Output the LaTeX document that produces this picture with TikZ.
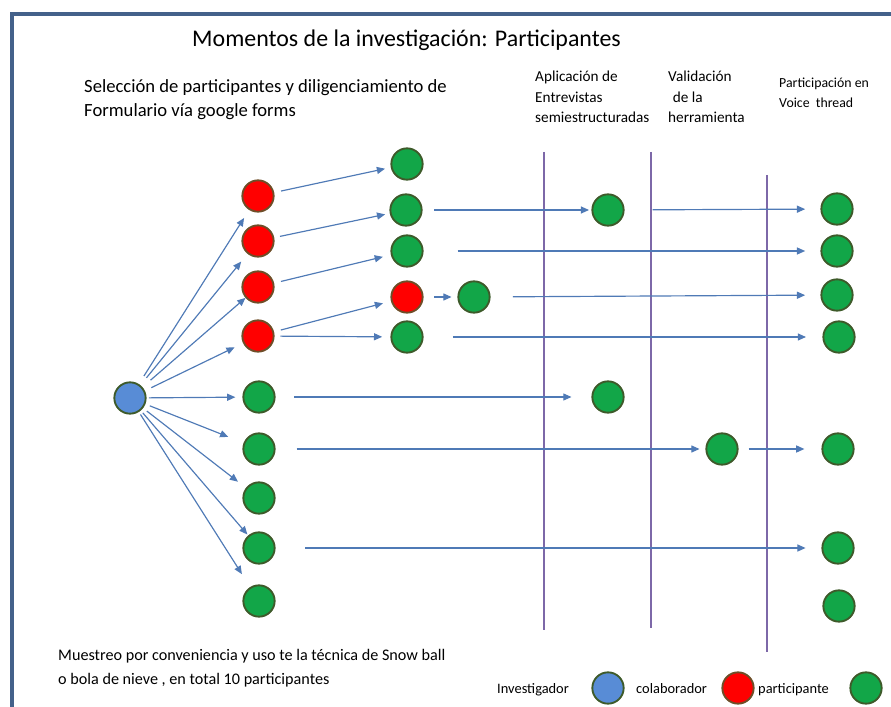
\documentclass[tikz,border=0pt]{standalone}
\usepackage{fontspec}
\setmainfont{Carlito}
\usetikzlibrary{arrows.meta}

\definecolor{framecol}{RGB}{68,97,138}
\definecolor{arrowcol}{RGB}{79,122,182}
\definecolor{phasecol}{RGB}{125,104,168}
\definecolor{greenfill}{RGB}{18,166,72}
\definecolor{redfill}{RGB}{255,0,0}
\definecolor{bluefill}{RGB}{88,140,214}
\definecolor{ringgreen}{RGB}{62,90,42}
\definecolor{ringbrown}{RGB}{110,78,40}

\tikzset{
    ball/.style={circle, draw=ringgreen, line width=1.6pt, minimum size=0.94cm, inner sep=0pt},
    investigador/.style={ball, fill=bluefill},
    colaborador/.style={ball, fill=redfill, draw=ringbrown},
    participante/.style={ball, fill=greenfill},
    flow/.style={draw=arrowcol, line width=1pt, -{Triangle[length=7pt,width=6pt]}},
    phase/.style={draw=phasecol, line width=2.4pt},
    txt/.style={anchor=west, inner sep=0pt, align=left},
    legtxt/.style={anchor=base west, inner sep=0pt, font=\fontsize{12.3}{15}\selectfont}
}

\begin{document}
\begin{tikzpicture}[x=0.03cm, y=-0.03cm]
    \useasboundingbox (0,0) rectangle (891,707);
    \draw[framecol, line width=2.6pt] (12,14) rectangle (930,740);

    % texts
    \node[txt, font=\fontsize{20.4}{24}\selectfont] (title) at (192,40) {Momentos de la investigación: Participantes};
    \node[txt, font=\fontsize{15.9}{20.5}\selectfont] (intro) at (84,100)
        {Selección de participantes y diligenciamiento de\\Formulario vía google forms};
    \node[txt, font=\fontsize{13}{17.5}\selectfont] (hdrent) at (535,97)
        {Aplicación de\\Entrevistas\\semiestructuradas};
    \node[txt, font=\fontsize{13}{17.5}\selectfont] (hdrval) at (668,97)
        {Validación\\\hspace{0.3em}de la\\herramienta};
    \node[txt, font=\fontsize{11.8}{17.5}\selectfont] (hdrvt) at (779,93)
        {Participación en\\Voice\ \ thread};
    \node[txt, font=\fontsize{13.8}{21}\selectfont] (note) at (58,668)
        {Muestreo por conveniencia y uso te la técnica de Snow ball\\o bola de nieve , en total 10 participantes};

    % phases
    \draw[phase] (544,152) -- (544,630);
    \draw[phase] (651,152) -- (651,628);
    \draw[phase] (767,175) -- (767,652);

    % nodes
    \node[investigador] (inv) at (130,398) {};
    \foreach \i/\y in {1/196,2/241,3/287,4/336}
        \node[colaborador] (c\i) at (258,\y) {};
    \foreach \i/\y in {1/397,2/449,3/498,4/548,5/601}
        \node[participante] (p\i) at (259,\y) {};
    \node[participante] (q1) at (407,164) {};
    \node[participante] (q2) at (406,210) {};
    \node[participante] (q3) at (407,251) {};
    \node[colaborador] (c5) at (407,297) {};
    \node[participante] (q4) at (407,337) {};
    \node[participante] (q5) at (474,297) {};
    \node[participante] (e1) at (608,210) {};
    \node[participante] (e2) at (608,397) {};
    \node[participante] (v1) at (722,449) {};
    \foreach \i/\x/\y in {1/837/209,2/837/251,3/837/295,4/839/337,5/838/449,6/838/548,7/839/606}
        \node[participante] (r\i) at (\x,\y) {};

    % arrows (source/target/start gap/end gap)
    \foreach \a/\b/\s/\e in {inv/c1/8/8, inv/c2/8/8.5, inv/c3/9/0, inv/c4/6/8,
            inv/p1/2/6, inv/p2/4/14, inv/p3/4/8.5, inv/p4/2.5/1, inv/p5/2.5/13,
            c1/q1/6/5, c2/q2/5/4, c3/q3/6/7, c4/c5/6/7, c4/q4/5/7, c5/q5/9/5,
            q2/e1/10/2, e1/r1/24/13, q3/r2/29/13, q5/r3/19/13, q4/r4/25/14,
            p1/e2/16/17, p2/v1/18/5, v1/r5/8.5/14.5, p4/r6/25.5/13.5}
        \draw[flow, shorten <=\s pt, shorten >=\e pt] (\a) -- (\b);

    % legend
    \node[legtxt] (leginvtxt) at (497,693) {Investigador};
    \node[investigador] (leginv) at (608,688) {};
    \node[legtxt] (legcoltxt) at (636,693) {colaborador};
    \node[colaborador] (legcol) at (738,688) {};
    \node[legtxt] (legpartxt) at (758,693) {participante};
    \node[participante] (legpar) at (866,688) {};
\end{tikzpicture}
\end{document}
